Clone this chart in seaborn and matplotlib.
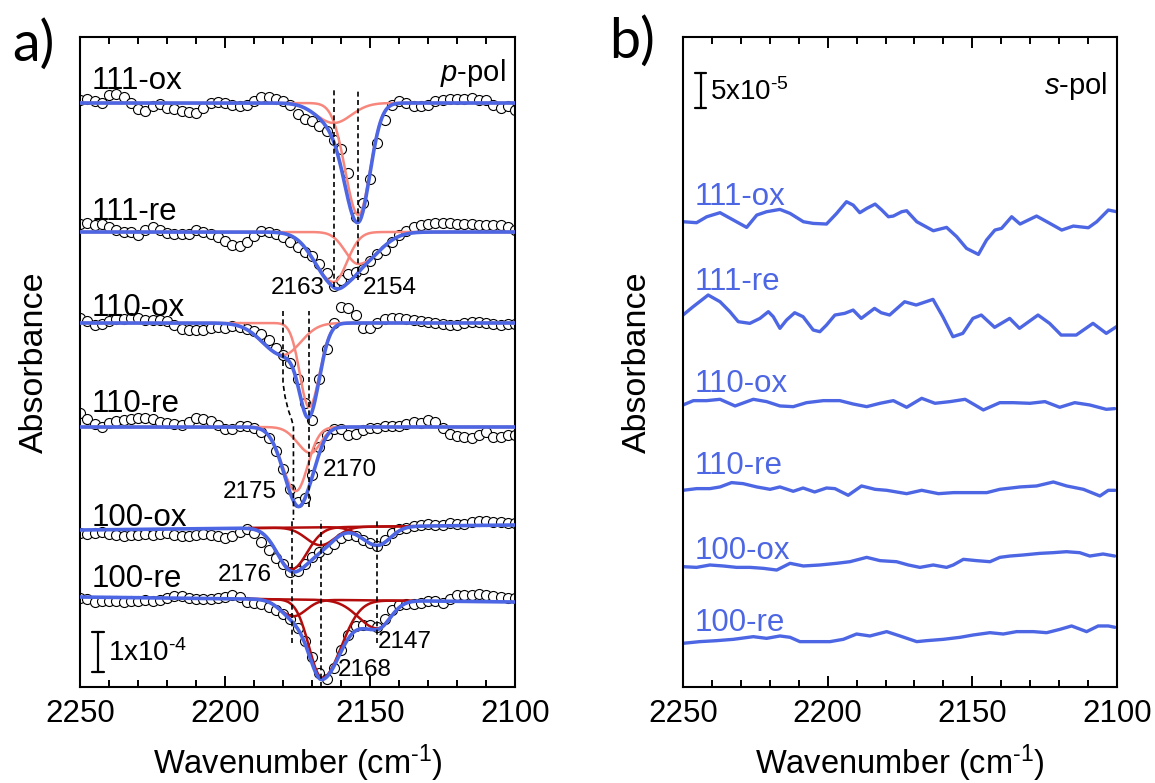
import numpy as np
import matplotlib
matplotlib.use("Agg")
import matplotlib.pyplot as plt
import seaborn as sns
from matplotlib.ticker import MultipleLocator

# ---------------- data ----------------
# p-pol measured points, every 2.5 cm-1 from 2250 to 2100
wn_p = np.arange(2250, 2099, -2.5)

# offsets from each trace's baseline, units of 1e-4 absorbance
p_111_ox = [0.08, 0.10, 0.05, 0.00, 0.20, 0.22, 0.15, 0.00, -0.15, -0.20,
            -0.08, -0.02, -0.12, -0.15, -0.20, -0.22, -0.25, -0.12, 0.00, 0.02,
            0.00, -0.05, -0.08, -0.05, 0.05, 0.15, 0.15, 0.10, 0.05, -0.05,
            -0.28, -0.40, -0.45, -0.58, -0.70, -0.92, -1.15, -1.75, -2.85, -2.50,
            -1.90, -1.00, -0.42, -0.04, 0.04, 0.00, -0.08, -0.08, -0.04, 0.04,
            0.08, 0.10, 0.10, 0.10, 0.12, 0.08, 0.08, -0.04, -0.12, -0.08, -0.17]
p_111_re = [0.20, 0.22, 0.17, 0.20, 0.13, 0.05, 0.00, 0.00, -0.08, 0.05,
            0.12, 0.05, -0.02, -0.06, -0.06, -0.04, 0.04, 0.00, -0.04, -0.12,
            -0.22, -0.33, -0.35, -0.25, -0.10, 0.02, 0.00, -0.05, -0.12, -0.25,
            -0.38, -0.50, -0.60, -0.80, -1.02, -1.35, -1.20, -1.05, -1.00, -0.92,
            -0.72, -0.56, -0.45, -0.25, -0.08, 0.03, 0.12, 0.17, 0.20, 0.22,
            0.22, 0.22, 0.21, 0.20, 0.19, 0.18, 0.18, 0.18, 0.17, 0.12, 0.05]
p_110_ox = [0.12, 0.05, -0.04, -0.02, 0.05, 0.10, 0.10, 0.12, 0.12, 0.08,
            0.08, 0.08, 0.05, -0.05, -0.15, -0.18, -0.18, -0.17, -0.12, -0.10,
            -0.12, -0.08, -0.10, -0.15, -0.20, -0.28, -0.42, -0.62, -0.80, -1.00,
            -1.40, -2.00, -2.42, -1.40, -0.66, 0.00, 0.40, 0.38, 0.20, -0.13,
            -0.13, 0.00, 0.10, 0.12, 0.12, 0.10, 0.08, 0.04, 0.02, 0.00,
            -0.02, -0.04, -0.05, 0.00, 0.03, 0.02, 0.00, -0.02, -0.06, -0.03, -0.02]
p_110_re = [0.35, 0.20, 0.08, 0.00, 0.10, 0.15, 0.17, 0.20, 0.22, 0.22,
            0.20, 0.13, 0.10, 0.07, 0.05, 0.12, 0.22, 0.20, 0.15, 0.05,
            -0.05, -0.05, 0.02, 0.03, -0.03, -0.13, -0.27, -0.60, -1.05, -1.55,
            -1.88, -1.78, -1.20, -0.50, -0.20, -0.05, -0.05, -0.20, -0.18, -0.08,
            -0.02, -0.02, 0.02, 0.03, 0.03, 0.08, 0.13, 0.10, 0.17, 0.12,
            -0.03, -0.18, -0.22, -0.25, -0.27, -0.20, -0.12, -0.26, -0.24, -0.20, -0.20]
p_100_ox = [-0.08, -0.10, -0.08, -0.06, -0.10, -0.13, -0.14, -0.12, -0.12, -0.11,
            -0.12, -0.10, -0.08, -0.12, -0.14, -0.14, -0.12, -0.11, -0.12, -0.16,
            -0.21, -0.15, -0.04, 0.03, -0.08, -0.30, -0.50, -0.69, -0.86, -1.04,
            -1.03, -0.84, -0.68, -0.56, -0.48, -0.35, -0.21, -0.12, -0.15, -0.24,
            -0.33, -0.39, -0.26, -0.08, 0.02, 0.05, 0.09, 0.12, 0.14, 0.13,
            0.13, 0.17, 0.14, 0.16, 0.21, 0.22, 0.22, 0.21, 0.19, 0.18, 0.17]
p_100_re = [-0.03, -0.06, -0.12, -0.11, -0.09, -0.10, -0.13, -0.11, -0.09, -0.08,
            -0.10, -0.07, -0.03, 0.02, 0.02, -0.02, -0.05, -0.06, -0.04, -0.02,
            0.00, 0.04, 0.00, -0.13, -0.15, -0.18, -0.24, -0.32, -0.42, -0.55,
            -0.78, -1.10, -1.50, -1.90, -2.04, -1.78, -1.32, -0.95, -0.73, -0.69,
            -0.71, -0.74, -0.56, -0.33, -0.20, -0.17, -0.17, -0.14, -0.10, -0.10,
            -0.15, -0.05, 0.04, 0.04, 0.05, 0.08, 0.06, 0.03, 0.00, -0.02, -0.03]

p_names = ["111-ox", "111-re", "110-ox", "110-re", "100-ox", "100-re"]
p_data = [p_111_ox, p_111_re, p_110_ox, p_110_re, p_100_ox, p_100_re]
# fit baseline at 2250 and at 2100 (stacked offsets, 1e-4 units)
p_base_left = [14.6, 11.375, 9.1, 6.5, 3.925, 2.25]
p_base_right = [14.6, 11.375, 9.1, 6.5, 4.05, 2.125]

# fitted peaks: (centre cm-1, depth 1e-4, width on high-wn side, width on low-wn side)
peaks_111_ox = [(2162.5, 0.5, 6.0, 6.0), (2154.0, 2.8, 4.5, 4.0)]
peaks_111_re = [(2162.5, 1.25, 6.5, 4.5), (2154.0, 0.8, 4.5, 7.0)]
peaks_110_ox = [(2180.0, 0.8, 7.0, 6.0), (2171.0, 2.1, 3.2, 3.6)]
peaks_110_re = [(2175.5, 1.6, 4.7, 4.0), (2170.5, 0.65, 4.5, 3.5)]
peaks_100_ox = [(2177.0, 1.04, 5.0, 5.3), (2167.0, 0.45, 5.0, 5.0), (2147.5, 0.47, 5.2, 4.5)]
peaks_100_re = [(2176.5, 0.42, 4.5, 4.5), (2166.5, 1.95, 4.5, 6.5), (2147.5, 0.7, 6.5, 4.5)]
p_peaks = [peaks_111_ox, peaks_111_re, peaks_110_ox, peaks_110_re, peaks_100_ox, peaks_100_re]

# s-pol traces: offsets from baseline, units of 1e-5 absorbance
s_111_ox_wn = [2250, 2245.3, 2241.8, 2237.2, 2232.6, 2228.0, 2224.5, 2221.1, 2216.5, 2213.0,
               2208.4, 2205.0, 2200.4, 2196.9, 2193.5, 2191.2, 2188.9, 2186.5, 2183.6, 2181.3,
               2179.0, 2177.3, 2174.4, 2172.7, 2169.2, 2163.5, 2158.9, 2155.4, 2152.0, 2147.9,
               2145.1, 2142.2, 2139.9, 2136.4, 2133.5, 2127.8, 2123.2, 2119.1, 2115.1, 2109.9,
               2107.0, 2103.0, 2100.1]
s_111_ox = [0, -0.14, 0.71, 1.29, 0.24, -0.81, 0.95, 1.43, 1.76, 1.19,
            0, -0.24, -0.33, 1.19, 2.86, 2.38, 1.29, 1.9, 2.52, 1.67,
            0.71, 0.81, 1.43, 1.57, 0, -1.29, -0.81, -2.14, -3.81, -4.67,
            -2.62, -1.19, -0.95, 0.71, -0.33, 0.81, -0.24, -1.19, -0.62, -0.86,
            0, 1.67, 1.43]
s_111_re_wn = [2250, 2246.5, 2241.3, 2237.2, 2233.8, 2230.9, 2226.9, 2223.4, 2220.5, 2218.8,
               2216.5, 2214.2, 2211.4, 2208.5, 2205.0, 2202.7, 2200.4, 2197.5, 2194.1, 2191.2,
               2188.4, 2183.8, 2181.5, 2178.6, 2173.4, 2169.4, 2163.6, 2160.2, 2156.7, 2153.3,
               2149.8, 2146.9, 2142.3, 2137.1, 2133.7, 2127.3, 2123.3, 2119.3, 2114.1, 2108.3,
               2103.7, 2100.2]
s_111_re = [0, 1.19, 2.86, 1.9, 0.48, -0.95, -1.19, -0.48, 0.48, -0.24,
            -1.9, -0.71, 0.33, -0.24, -2.14, -2.38, -1.43, 0, 0.24, 0.71,
            -0.48, 0.95, 0.33, 0, 1.9, 1.43, 2.24, -0.24, -3.1, -2.62,
            -0.48, 0, -1.76, -0.48, -1.9, 0, -1.19, -2.86, -2.86, -1.19,
            -2.62, -1.67]
s_110_ox_wn = [2250, 2246.4, 2241.8, 2237.2, 2232.0, 2225.7, 2221.1, 2216.5, 2211.9, 2207.3,
               2201.5, 2195.8, 2191.2, 2186.5, 2181.9, 2177.3, 2172.7, 2167.5, 2162.9, 2157.7,
               2152.5, 2149.7, 2146.2, 2140.5, 2135.9, 2130.1, 2124.9, 2119.8, 2114.6, 2109.4,
               2103.7, 2100.8]
s_110_ox = [0, 0.62, 0.62, 0.81, -0.14, 0.81, 0.48, -0.14, -0.24, 0.33,
            0.62, 0.62, 0.14, -0.24, 0.24, 0.62, -0.33, 0.95, 0.24, 0.48,
            0.81, 0.14, -0.71, 0.33, 0.33, 0.24, 0.48, -0.33, 0.33, 0,
            -0.62, -0.52]
s_110_re_wn = [2250, 2245.3, 2240.7, 2237.2, 2233.2, 2229.2, 2224.5, 2219.9, 2216.5, 2211.9,
               2208.5, 2204.5, 2200.4, 2197.5, 2192.9, 2188.3, 2183.6, 2179.6, 2172.7, 2167.5,
               2161.7, 2156.5, 2150.8, 2145.0, 2140.5, 2133.5, 2127.8, 2122.0, 2117.4, 2111.6,
               2105.9, 2103.0, 2100.7]
s_110_re = [0, 0.24, 0.24, 0.48, 1.1, 0.95, 0.48, 0.14, 0.48, -0.14,
            0.33, -0.24, 0.33, 0.24, -0.71, 0.62, 0.14, 0, -0.48, 0,
            -0.48, -0.33, -0.33, -0.33, 0.14, 0.48, 0.62, 1.19, 0.62, 0.14,
            -0.81, 0, 0]
s_100_ox_wn = [2250, 2245.3, 2240.7, 2236.1, 2231.5, 2226.8, 2222.2, 2217.6, 2213.0, 2208.4,
               2202.7, 2196.9, 2192.3, 2186.5, 2181.9, 2176.2, 2172.1, 2168.1, 2163.5, 2158.9,
               2156.6, 2153.1, 2148.5, 2143.9, 2140.5, 2137.0, 2132.4, 2126.7, 2122.1, 2117.5,
               2112.9, 2109.4, 2104.8, 2100.8]
s_100_ox = [0, -0.1, 0.24, 0.1, -0.1, -0.1, -0.24, -0.48, 0.48, 0.1,
            0.24, 0.48, 0.71, 1.33, 0.86, 0.71, 0.24, -0.1, 0.24, -0.1,
            0.24, 1.05, 0.86, 0.71, 1.33, 1.52, 1.67, 1.9, 2.0, 2.14,
            2.0, 1.52, 1.81, 1.52]
s_100_re_wn = [2250, 2244.2, 2238.4, 2232.6, 2225.7, 2221.1, 2216.5, 2213.0, 2209.6, 2205.0,
               2199.2, 2194.6, 2190.0, 2185.4, 2179.6, 2175.0, 2169.2, 2165.8, 2160.0, 2154.2,
               2149.7, 2143.9, 2139.3, 2134.7, 2128.9, 2124.3, 2119.7, 2115.7, 2110.5, 2106.5,
               2103.0, 2100.7]
s_100_re = [0, 0.24, 0.38, 0.57, 0.95, 0.71, 1.05, 0.86, 0.24, 0.24,
            0.24, 0.57, 1.33, 1.05, 1.67, 1.05, 0.24, 0.38, 0.57, 0.86,
            1.19, 1.52, 1.33, 1.67, 1.67, 1.52, 2.0, 2.48, 1.67, 2.48,
            2.48, 2.29]

s_wn = [s_111_ox_wn, s_111_re_wn, s_110_ox_wn, s_110_re_wn, s_100_ox_wn, s_100_re_wn]
s_data = [s_111_ox, s_111_re, s_110_ox, s_110_re, s_100_ox, s_100_re]
s_base = [66.47, 53.14, 40.29, 28.1, 17.19, 6.24]

peak_text = ["2163", "2154", "2175", "2170", "2176", "2147", "2168"]

# ---------------- style ----------------
BLUE = "#4d66e3"
PINK = "#f7877c"
DARKRED = "#b30c0c"

sns.set_theme(style="ticks")
plt.rcParams["font.family"] = ["Liberation Sans", "DejaVu Sans"]
plt.rcParams["mathtext.fontset"] = "custom"
plt.rcParams["mathtext.rm"] = "Liberation Sans"
plt.rcParams["mathtext.it"] = "Liberation Sans:italic"
for key in ["text.color", "axes.labelcolor", "xtick.color", "ytick.color", "axes.edgecolor"]:
    plt.rcParams[key] = "black"


def fit_profile(wn, base_l, base_r, peaks):
    base = base_l + (base_r - base_l) * (2250 - wn) / 150.0
    total = np.zeros_like(wn)
    comps = []
    for c, a, s_hi, s_lo in peaks:
        s = np.where(wn >= c, s_hi, s_lo)
        g = a * np.exp(-(wn - c) ** 2 / (2 * s ** 2))
        comps.append(base - g)
        total = total + g
    return base - total, comps


def style_axis(ax, ymax):
    ax.set_xlim(2250, 2100)
    ax.set_ylim(0, ymax)
    ax.xaxis.set_major_locator(MultipleLocator(50))
    ax.xaxis.set_minor_locator(MultipleLocator(10))
    ax.tick_params(axis="x", which="both", direction="in", top=True, bottom=True,
                   labelsize=22.5, pad=9, width=1.4)
    ax.tick_params(axis="x", which="major", length=8)
    ax.tick_params(axis="x", which="minor", length=5)
    ax.set_yticks([])
    for sp in ax.spines.values():
        sp.set_visible(True)
        sp.set_linewidth(1.5)
        sp.set_color("black")
    ax.set_xlabel(r"Wavenumber (cm$^{\text{-}1}$)", fontsize=23.5, labelpad=9)
    ax.set_ylabel("Absorbance", fontsize=24.5, labelpad=22)


fig = plt.figure(figsize=(11.55, 7.83), dpi=100)
ax_p = fig.add_axes([80 / 1155, 96 / 783, 435 / 1155, 650 / 783])
ax_s = fig.add_axes([683 / 1155, 96 / 783, 434 / 1155, 650 / 783])

# ---------------- panel a: p-pol ----------------
wn_fine = np.linspace(2250, 2100, 601)
for i, name in enumerate(p_names):
    y_pts = p_base_left[i] + np.array(p_data[i])
    sns.scatterplot(x=wn_p, y=y_pts, ax=ax_p, s=52, color="white", edgecolor="black",
                    linewidth=0.8, zorder=2, legend=False)
    fit, comps = fit_profile(wn_fine, p_base_left[i], p_base_right[i], p_peaks[i])
    if name.startswith("100"):
        win = (wn_fine <= 2192) & (wn_fine >= 2135)
        for comp in comps:
            sns.lineplot(x=wn_fine[win], y=comp[win], ax=ax_p, color=DARKRED, lw=1.8,
                         sort=False, estimator=None, zorder=3)
    else:
        for comp in comps:
            sns.lineplot(x=wn_fine, y=comp, ax=ax_p, color=PINK, lw=1.8,
                         sort=False, estimator=None, zorder=3)
    sns.lineplot(x=wn_fine, y=fit, ax=ax_p, color=BLUE, lw=2.6,
                 sort=False, estimator=None, zorder=4)

p_label_y = [15.15, 11.875, 9.475, 7.075, 4.225, 2.7]
for name, ly in zip(p_names, p_label_y):
    ax_p.text(2245.9, ly, name, fontsize=22.5, ha="left", va="center")

# peak-position guide lines
dash = (0, (3, 2))
vlines = [(peaks_111_ox[0][0], 10.0, 14.975), (peaks_111_ox[1][0], 10.175, 14.95),
          (peaks_110_ox[1][0], 4.5, 9.4), (peaks_100_ox[0][0], 1.1, 4.175),
          (peaks_100_ox[1][0], 0.0, 4.175), (peaks_100_ox[2][0], 1.1, 4.175)]
for x0, y0, y1 in vlines:
    ax_p.plot([x0, x0], [y0, y1], color="black", lw=1.2, ls=dash, zorder=5)
shift_wn = [2180.0, 2180.0, 2179.3, 2178.2, 2177.0, 2176.4, 2176.4]
shift_y = [9.4, 7.6, 7.26, 6.93, 6.68, 6.51, 4.175]
ax_p.plot(shift_wn, shift_y, color="black", lw=1.2, ls=dash, zorder=5)

peak_pos = [(2165.5, 9.975, "right"), (2152.4, 9.975, "left"), (2182.1, 4.875, "right"),
            (2166.2, 5.425, "left"), (2183.8, 2.8, "right"), (2147.2, 1.125, "left"),
            (2161.0, 0.425, "left")]
for txt, (px, py, ha) in zip(peak_text, peak_pos):
    ax_p.text(px, py, txt, fontsize=17.5, ha=ha, va="center", zorder=6)

ax_p.text(2103.4, 15.35, r"$\mathit{p}$-pol", fontsize=21, ha="right", va="center")

# scale bar 1e-4
ax_p.plot([2243.8, 2243.8], [0.375, 1.375], color="black", lw=1.6)
ax_p.plot([2245.8, 2241.8], [1.375, 1.375], color="black", lw=1.6)
ax_p.plot([2245.8, 2241.8], [0.375, 0.375], color="black", lw=1.6)
ax_p.text(2240.3, 0.85, r"1x10$^{\text{-}4}$", fontsize=20, ha="left", va="center")

style_axis(ax_p, 16.25)

# ---------------- panel b: s-pol ----------------
for i, name in enumerate(p_names):
    y_line = s_base[i] + np.array(s_data[i])
    sns.lineplot(x=s_wn[i], y=y_line, ax=ax_s, color=BLUE, lw=2.4,
                 sort=False, estimator=None)

s_label_y = [70.0, 57.86, 43.29, 31.57, 19.43, 9.14]
for name, ly in zip(p_names, s_label_y):
    ax_s.text(2245.9, ly, name, fontsize=22.5, ha="left", va="center", color=BLUE)

ax_s.text(2103.4, 85.86, r"$\mathit{s}$-pol", fontsize=21, ha="right", va="center")

# scale bar 5e-5
ax_s.plot([2243.9, 2243.9], [82.7, 87.7], color="black", lw=1.6)
ax_s.plot([2245.9, 2241.9], [87.7, 87.7], color="black", lw=1.6)
ax_s.plot([2245.9, 2241.9], [82.7, 82.7], color="black", lw=1.6)
ax_s.text(2240.7, 85.0, r"5x10$^{\text{-}5}$", fontsize=20, ha="left", va="center")

style_axis(ax_s, 92.86)

fig.text(33 / 1155, 1 - 45 / 783, "a)", fontsize=40, family=["Lato", "DejaVu Sans"],
         ha="center", va="center")
fig.text(632 / 1155, 1 - 42 / 783, "b)", fontsize=40, family=["Lato", "DejaVu Sans"],
         ha="center", va="center")

fig.savefig("out.png", dpi=100)
